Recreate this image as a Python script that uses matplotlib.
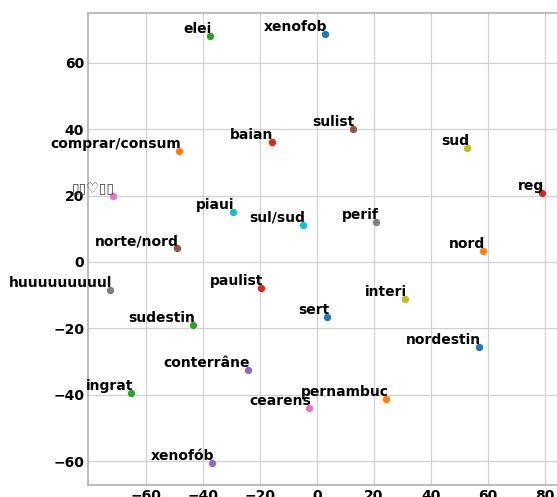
import matplotlib
matplotlib.use('Agg')
import matplotlib.pyplot as plt
import numpy as np

# word labels and their 2D embedding coordinates
words = ['xenofob', 'comprar/consum', 'elei', 'baian', 'conterrâne', 'norte/nord',
         '▯▯♡▯▯', 'huuuuuuuuul', 'sud', 'piaui', 'sert', 'nord',
         'sudestin', 'paulist', 'xenofób', 'sulist', 'cearens', 'perif',
         'interi', 'sul/sud', 'nordestin', 'pernambuc', 'ingrat', 'reg']
xs = [3.0, -48.4, -37.5, -15.9, -24.1, -49.2,
      -71.7, -72.5, 52.6, -29.6, 3.6, 58.4,
      -43.4, -19.6, -36.8, 12.6, -2.8, 20.8,
      30.8, -5.0, 56.8, 24.4, -65.1, 79.1]
ys = [68.7, 33.3, 68.1, 36.2, -32.5, 4.1,
      19.9, -8.4, 34.4, 15.0, -16.5, 3.2,
      -19.0, -7.9, -60.7, 40.0, -43.9, 12.0,
      -11.3, 11.2, -25.7, -41.3, -39.6, 20.9]

xticks = [-60, -40, -20, 0, 20, 40, 60, 80]
yticks = [-60, -40, -20, 0, 20, 40, 60]

fig = plt.figure(figsize=(5.57, 4.97), dpi=100)
ax = fig.add_axes([0.1585, 0.0235, 0.8506, 0.9509])

colors = plt.rcParams['axes.prop_cycle'].by_key()['color']
for i, (w, x, y) in enumerate(zip(words, xs, ys)):
    c = colors[i % len(colors)]
    ax.scatter(x, y, s=34, color=c, edgecolor='white', linewidth=0.5, zorder=3)
    # the missing-glyph label was drawn as thin boxes
    wt = 'normal' if '♡' in w else 'bold'
    tc = '#444444' if '♡' in w else 'black'
    ax.annotate(w, xy=(x, y), xytext=(1.5, 0), textcoords='offset points',
                ha='right', va='bottom', fontsize=10, fontweight=wt,
                color=tc, zorder=4)

ax.set_xlim(-80.2, 86)
ax.set_ylim(-67.3, 75.1)
ax.set_xticks(xticks)
ax.set_yticks(yticks)
ax.grid(True, color='#d0d0d0', linewidth=0.9)
ax.set_axisbelow(True)
for s in ax.spines.values():
    s.set_color('#b0b0b0')
    s.set_linewidth(1.2)
ax.tick_params(length=0, pad=3, labelsize=10, labelcolor='black')
for lbl in ax.get_xticklabels() + ax.get_yticklabels():
    lbl.set_fontweight('bold')

fig.savefig('out.png', dpi=100)
